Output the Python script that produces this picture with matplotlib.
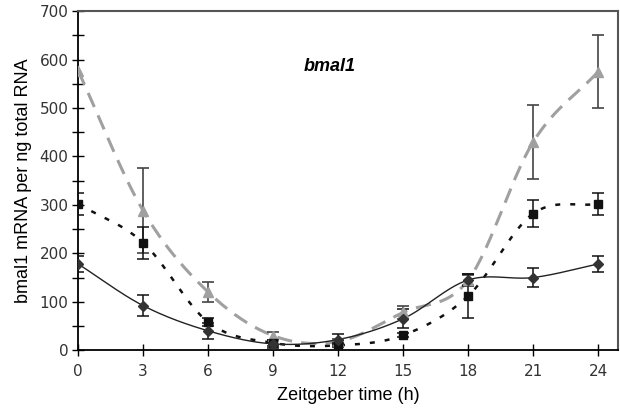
import numpy as np
import matplotlib
matplotlib.use("Agg")
import matplotlib.pyplot as plt

zt = [0, 3, 6, 9, 12, 15, 18, 21, 24]

# diamonds, solid black line
dia = [178, 92, 40, 13, 22, 65, 145, 150, 178]
dia_err = [17, 22, 16, 9, 12, 20, 12, 20, 17]

# squares, dotted black line
sq = [302, 222, 58, 15, 10, 31, 112, 282, 302]
sq_err = [22, 33, 8, 6, 4, 4, 45, 28, 22]

# triangles, dashed gray line
tri = [577, 288, 120, 30, 18, 78, 145, 430, 575]
tri_err = [0, 88, 21, 8, 6, 14, 10, 77, 76]


def smooth(x, y, n=30):
    # Catmull-Rom curve through the points, like Excel's smoothed line
    x = np.asarray(x, float)
    y = np.asarray(y, float)
    px = np.concatenate([[2 * x[0] - x[1]], x, [2 * x[-1] - x[-2]]])
    py = np.concatenate([[2 * y[0] - y[1]], y, [2 * y[-1] - y[-2]]])
    xs, ys = [], []
    t = np.linspace(0, 1, n)
    for i in range(1, len(px) - 2):
        for p, out in ((px, xs), (py, ys)):
            p0, p1, p2, p3 = p[i - 1], p[i], p[i + 1], p[i + 2]
            out.append(0.5 * (2 * p1 + (-p0 + p2) * t
                              + (2 * p0 - 5 * p1 + 4 * p2 - p3) * t ** 2
                              + (-p0 + 3 * p1 - 3 * p2 + p3) * t ** 3))
    return np.concatenate(xs), np.concatenate(ys)


fig = plt.figure(figsize=(6.2, 4.12), dpi=100)
ax = fig.add_axes([0.126, 0.150, 0.871, 0.823])

sx, sy = smooth(zt, tri)
ax.plot(sx, sy, color="#a0a0a0", lw=2.2, dashes=(5, 3), zorder=2)
ax.errorbar(zt[1:], tri[1:], yerr=tri_err[1:], fmt="none", ecolor="#444444",
            elinewidth=1.2, capsize=4, capthick=1.2, zorder=3)
ax.plot(zt, tri, "^", color="#a0a0a0", ms=7, zorder=4)

sx, sy = smooth(zt, sq)
ax.plot(sx, sy, color="#111111", lw=1.8, dashes=(2, 4), zorder=2)
ax.errorbar(zt, sq, yerr=sq_err, fmt="none", ecolor="#111111",
            elinewidth=1.1, capsize=4, capthick=1.1, zorder=3)
ax.plot(zt, sq, "s", color="#111111", ms=5.5, zorder=4)

sx, sy = smooth(zt, dia)
ax.plot(sx, sy, color="#222222", lw=1.0, zorder=2)
ax.errorbar(zt, dia, yerr=dia_err, fmt="none", ecolor="#111111",
            elinewidth=1.1, capsize=4, capthick=1.1, zorder=3)
ax.plot(zt, dia, "D", color="#333333", ms=5, zorder=4)

ax.set_xlim(0, 24.92)
ax.set_ylim(0, 700)
ax.set_xticks(zt)
ax.set_yticks(range(0, 701, 100))
ax.set_yticks(range(50, 700, 100), minor=True)
ax.tick_params(axis="both", which="major", direction="inout", length=8,
               width=1, labelsize=11, labelcolor="#333333", pad=3)
ax.tick_params(axis="x", which="major", pad=6)
ax.tick_params(axis="y", which="minor", direction="inout", length=8, width=1)
for s in ("left", "bottom"):
    ax.spines[s].set_color("black")
    ax.spines[s].set_linewidth(1.3)
for s in ("top", "right"):
    ax.spines[s].set_color("#555555")
    ax.spines[s].set_linewidth(1.5)

ax.set_xlabel("Zeitgeber time (h)", fontsize=13, family="Liberation Sans", labelpad=6)
ax.set_ylabel("bmal1 mRNA per ng total RNA", fontsize=13, family="Liberation Sans", labelpad=5)
ax.text(11.6, 585, "bmal1", fontsize=13, fontweight="bold", fontstyle="italic",
        family="Liberation Sans", ha="center", va="center")

fig.savefig("out.png", dpi=100)
